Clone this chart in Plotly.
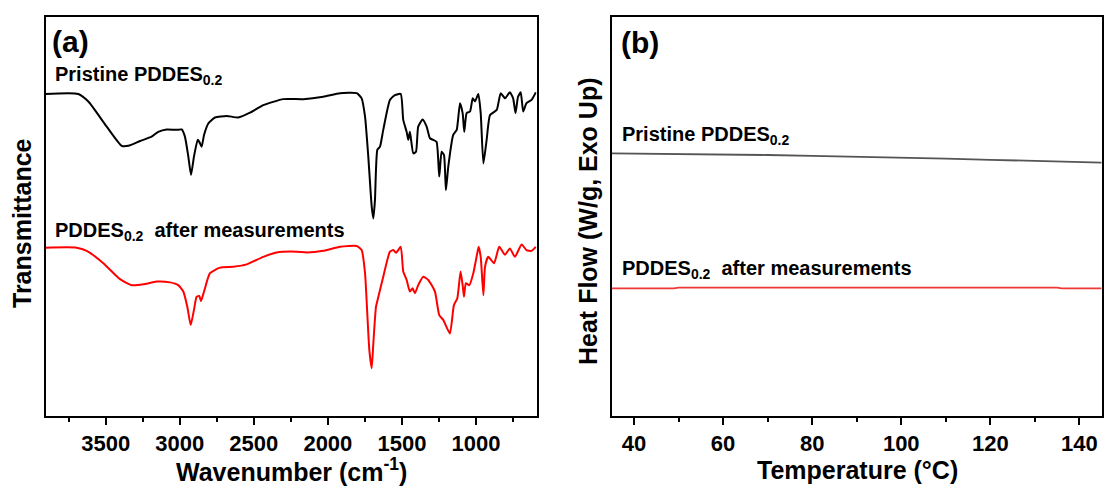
import plotly.graph_objects as go

# ---------------- data ----------------
# (a) FTIR spectra, transmittance in arbitrary units
wn_pristine = [3905, 3685, 3617, 3493, 3392, 3347, 3268, 3190, 3145, 3088, 3021, 2987, 2965, 2942, 2924,
               2904, 2879, 2868, 2852, 2836, 2807, 2762, 2683, 2605, 2526, 2436, 2301, 2166, 2031, 1918,
               1805, 1772, 1749, 1727, 1704, 1693, 1682, 1666, 1648, 1626, 1581, 1547, 1508, 1491, 1468,
               1457, 1446, 1423, 1405, 1390, 1360, 1333, 1311, 1289, 1266, 1248, 1232, 1216, 1203, 1187,
               1154, 1130, 1108, 1090, 1079, 1063, 1040, 1022, 1007, 984, 968, 950, 928, 905, 860,
               833, 804, 771, 749, 733, 716, 698, 681, 659, 625, 596]
tr_pristine = [80.6, 80.6, 78.7, 72.4, 67.6, 67.6, 68.8, 69.9, 71.1, 71.7, 71.6, 71.7, 69.9, 64.9, 60.3,
               64.9, 69.1, 68.6, 67.4, 70.3, 73.2, 74.7, 75.1, 74.7, 75.9, 77.8, 79.3, 79.3, 79.9, 80.8,
               80.8, 79.5, 74.9, 64.9, 52.4, 49.4, 54.0, 66.6, 67.4, 71.6, 79.1, 80.3, 80.6, 74.1, 71.1,
               69.1, 71.1, 65.7, 66.1, 72.4, 74.2, 72.4, 69.5, 69.1, 68.6, 59.9, 66.1, 65.3, 56.5, 62.4,
               70.3, 71.6, 78.3, 75.8, 71.1, 75.8, 76.2, 79.5, 78.7, 80.6, 75.8, 63.2, 69.1, 75.3, 76.6,
               80.8, 79.5, 81.0, 79.5, 75.8, 79.9, 81.0, 76.2, 78.3, 79.1, 81.0]

wn_after = [3905, 3696, 3628, 3516, 3403, 3324, 3246, 3156, 3066, 3010, 2976, 2949, 2926, 2904, 2886,
            2868, 2857, 2836, 2796, 2728, 2638, 2548, 2436, 2346, 2211, 2143, 2031, 1918, 1805, 1772,
            1749, 1734, 1720, 1704, 1693, 1675, 1659, 1626, 1581, 1558, 1540, 1508, 1491, 1468, 1446,
            1428, 1412, 1390, 1356, 1322, 1277, 1248, 1221, 1176, 1149, 1126, 1104, 1090, 1081, 1068,
            1045, 1018, 996, 982, 968, 950, 939, 917, 878, 843, 804, 771, 737, 692, 659, 625, 596]
tr_after = [42.1, 42.1, 41.3, 38.2, 34.2, 32.7, 32.9, 33.6, 33.4, 32.7, 31.1, 27.3, 22.7, 26.5, 29.8,
            30.0, 28.7, 31.1, 35.7, 37.1, 37.3, 37.9, 39.8, 40.9, 41.1, 40.9, 41.3, 42.3, 42.5, 41.5,
            35.7, 25.7, 16.5, 11.9, 18.1, 27.3, 29.8, 34.8, 41.1, 41.5, 40.8, 42.3, 36.1, 34.0, 31.1,
            31.9, 30.7, 32.7, 34.8, 34.0, 31.1, 25.2, 24.0, 20.6, 27.7, 29.4, 36.1, 32.7, 29.8, 33.2,
            32.7, 35.7, 39.8, 42.3, 39.8, 30.2, 37.3, 39.8, 38.2, 42.3, 40.3, 41.9, 39.8, 42.9, 41.5, 41.3, 42.3]

# (b) DSC curves, heat flow in arbitrary units
temp_pristine = [35, 50, 60, 70, 80, 90, 100, 110, 120, 130, 140, 145]
hf_pristine = [65.7, 65.6, 65.5, 65.3, 65.1, 64.9, 64.6, 64.4, 64.1, 63.8, 63.5, 63.4]
temp_after = [35, 49, 50, 80, 110, 135, 136, 145]
hf_after = [31.9, 31.9, 32.1, 32.1, 32.1, 32.1, 31.9, 31.9]

# panel texts
label_a = "(a)"
label_b = "(b)"
name_pristine = "Pristine PDDES<sub>0.2</sub>"
name_after = "PDDES<sub>0.2</sub>\u00a0 after measurements"
xtitle_a = "Wavenumber (cm<sup>-1</sup>)"
ytitle_a = "Transmittance"
xtitle_b = "Temperature (°C)"
ytitle_b = "Heat Flow (W/g, Exo Up)"

# ---------------- figure ----------------
W, H = 1105, 486
FONT = "Arial, 'Liberation Sans', sans-serif"


def fx(px):
    return px / W


def fy(py):
    return 1 - py / H


fig = go.Figure()
fig.add_trace(go.Scatter(x=wn_pristine, y=tr_pristine, mode="lines",
                         line=dict(color="#000000", width=2, shape="spline", smoothing=0.5),
                         xaxis="x", yaxis="y"))
fig.add_trace(go.Scatter(x=wn_after, y=tr_after, mode="lines",
                         line=dict(color="#FF0000", width=2, shape="spline", smoothing=0.5),
                         xaxis="x", yaxis="y"))
fig.add_trace(go.Scatter(x=temp_pristine, y=hf_pristine, mode="lines",
                         line=dict(color="#555555", width=1.8), xaxis="x2", yaxis="y2"))
fig.add_trace(go.Scatter(x=temp_after, y=hf_after, mode="lines",
                         line=dict(color="#EE3838", width=1.8), xaxis="x2", yaxis="y2"))

ydom = [fy(415.7), fy(16.5)]
common_x = dict(showline=True, linecolor="black", linewidth=2, mirror=True,
                ticks="outside", ticklen=7, tickwidth=2, tickcolor="black",
                tickfont=dict(family=FONT, size=22, color="black", weight="bold"),
                showgrid=False, zeroline=False)
common_y = dict(showline=True, linecolor="black", linewidth=2, mirror=True,
                ticks="", showticklabels=False, showgrid=False, zeroline=False,
                range=[0, 100])

fig.update_layout(
    width=W, height=H,
    margin=dict(l=0, r=0, t=0, b=0),
    paper_bgcolor="white", plot_bgcolor="white",
    showlegend=False,
    font=dict(family=FONT, color="black"),
    xaxis=dict(domain=[fx(45.7), fx(536.7)], range=[3905, 590], anchor="y",
               tick0=0, dtick=500,
               minor=dict(dtick=250, ticks="outside", ticklen=4, tickwidth=2, tickcolor="black"),
               **common_x),
    yaxis=dict(domain=ydom, anchor="x", **common_y),
    xaxis2=dict(domain=[fx(611.7), fx(1101.7)], range=[35, 145], anchor="y2",
                tick0=0, dtick=20,
                minor=dict(dtick=10, ticks="outside", ticklen=4, tickwidth=2, tickcolor="black"),
                **common_x),
    yaxis2=dict(domain=ydom, anchor="x2", **common_y),
)


def ann(text, px, py, size, xanchor="left", angle=0):
    fig.add_annotation(text="<b>" + text + "</b>", x=fx(px), y=fy(py), xref="paper", yref="paper",
                       xanchor=xanchor, yanchor="middle", showarrow=False, textangle=angle,
                       font=dict(family=FONT, size=size, color="black"))


ann(label_a, 50, 42, 30)
ann(label_b, 619, 43, 30)
ann(name_pristine, 53, 76, 20)
ann(name_after, 53, 231, 20)
ann(name_pristine, 620, 135, 20)
ann(name_after, 620, 269, 20)
ann(xtitle_a, 291, 470, 25, xanchor="center")
ann(xtitle_b, 857, 470, 25, xanchor="center")
ann(ytitle_a, 22, 223, 25, xanchor="center", angle=-90)
ann(ytitle_b, 588, 221, 25, xanchor="center", angle=-90)

fig.write_html("out.html")
